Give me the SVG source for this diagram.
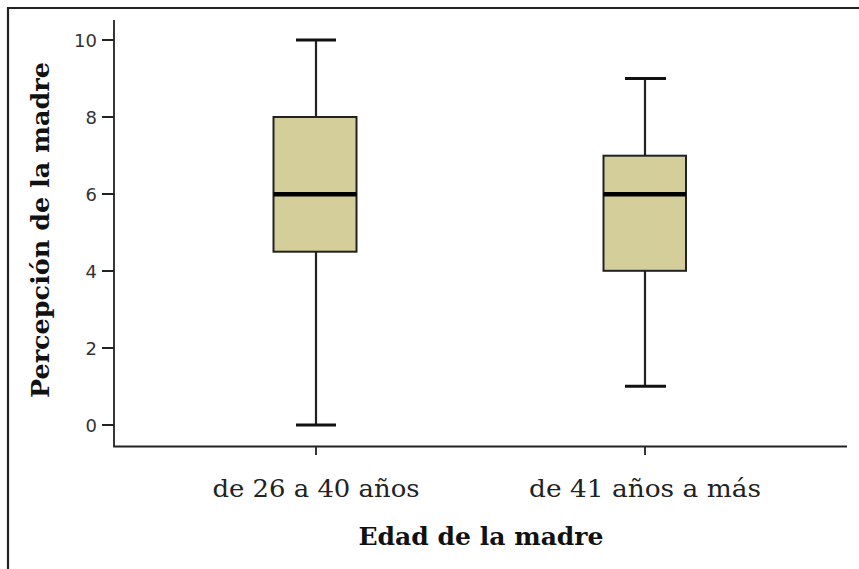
<svg xmlns="http://www.w3.org/2000/svg" width="859" height="569" viewBox="0 0 859 569">
<style>
.axis{stroke:#222;stroke-width:1.8;fill:none}
.frame{stroke:#222;stroke-width:2.2;fill:none}
.box{fill:#d3ce9a;stroke:#222;stroke-width:2}
.whisk{stroke:#222;stroke-width:2.2;fill:none}
.cap{stroke:#111;stroke-width:3;fill:none}
.med{stroke:#000;stroke-width:4.5;fill:none}
.tl{font-family:"DejaVu Sans",sans-serif;font-size:18px;fill:#333;text-anchor:end}
.cl{font-family:"DejaVu Serif",serif;font-size:24px;fill:#222;text-anchor:middle}
.ttl{font-family:"DejaVu Serif",serif;font-size:24px;font-weight:bold;fill:#111;text-anchor:middle}
</style>
<rect width="859" height="569" fill="#fff"/>
<g id="frame">
<path class="frame" d="M8,569 V8 H859"/>
</g>
<g id="axes">
<path class="axis" d="M114,20 V446.5 H847"/>
<path class="axis" d="M102,40 H114 M102,117 H114 M102,194 H114 M102,271 H114 M102,348 H114 M102,425 H114"/>
<path class="axis" d="M316,446.5 V455 M645,446.5 V455"/>
<text class="tl" x="97" y="46.5">10</text>
<text class="tl" x="97" y="123.5">8</text>
<text class="tl" x="97" y="200.5">6</text>
<text class="tl" x="97" y="277.5">4</text>
<text class="tl" x="97" y="354.5">2</text>
<text class="tl" x="97" y="431.5">0</text>
</g>
<g id="box1">
<path class="whisk" d="M316,40 V117 M316,251.7 V425"/>
<path class="cap" d="M296,40 H336 M296,425 H336"/>
<rect class="box" x="273.5" y="117" width="83" height="134.7"/>
<path class="med" d="M273.5,194.3 H356.5"/>
</g>
<g id="box2">
<path class="whisk" d="M645,78.5 V155.7 M645,270.8 V386.3"/>
<path class="cap" d="M625,78.5 H666 M625,386.3 H666"/>
<rect class="box" x="603.5" y="155.7" width="82.5" height="115.1"/>
<path class="med" d="M603.5,194.3 H686"/>
</g>
<g id="labels">
<text class="cl" x="316" y="497" textLength="207" lengthAdjust="spacingAndGlyphs">de 26 a 40 años</text>
<text class="cl" x="645" y="497" textLength="232" lengthAdjust="spacingAndGlyphs">de 41 años a más</text>
<text class="ttl" x="481" y="545" textLength="245" lengthAdjust="spacingAndGlyphs">Edad de la madre</text>
<text class="ttl" transform="translate(49,230) rotate(-90)" x="0" y="0" textLength="336" lengthAdjust="spacingAndGlyphs">Percepción de la madre</text>
</g>
</svg>
